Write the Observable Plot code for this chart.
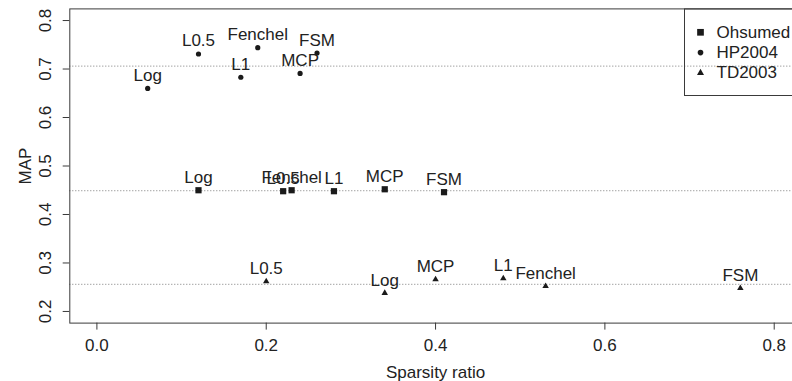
<!DOCTYPE html>
<html><head><meta charset="utf-8">
<script src="https://cdn.jsdelivr.net/npm/d3@7"></script>
<script src="https://cdn.jsdelivr.net/npm/@observablehq/plot@0.6"></script>
<style>body{margin:0;background:#fff} #chart svg{display:block}</style>
</head><body><div id="chart"></div>
<script>
// ---- data ----
const methods = ["Log", "L0.5", "L1", "Fenchel", "MCP", "FSM"];
const seriesNames = ["Ohsumed", "HP2004", "TD2003"];
const seriesSymbols = ["square", "circle", "triangle"];

const ohsumedSparsity = [0.12, 0.22, 0.28, 0.23, 0.34, 0.41];
const ohsumedMAP      = [0.450, 0.448, 0.448, 0.450, 0.452, 0.446];
const hp2004Sparsity  = [0.06, 0.12, 0.17, 0.19, 0.24, 0.26];
const hp2004MAP       = [0.660, 0.731, 0.683, 0.744, 0.691, 0.733];
const td2003Sparsity  = [0.34, 0.20, 0.48, 0.53, 0.40, 0.76];
const td2003MAP       = [0.238, 0.262, 0.268, 0.252, 0.266, 0.248];
const baselineMAP     = [0.449, 0.706, 0.256]; // Ohsumed, HP2004, TD2003

const xTicks = [0.0, 0.2, 0.4, 0.6, 0.8];
const yTicks = [0.2, 0.3, 0.4, 0.5, 0.6, 0.7, 0.8];

// ---- build table ----
const sparsityBySeries = [ohsumedSparsity, hp2004Sparsity, td2003Sparsity];
const mapBySeries = [ohsumedMAP, hp2004MAP, td2003MAP];
const rows = seriesNames.flatMap((s, i) =>
  methods.map((m, j) => ({series: s, method: m, x: sparsityBySeries[i][j], y: mapBySeries[i][j]})));

const ink = "#1a1a1a";
const txt = "#222";
const font = "'Liberation Sans', Arial, sans-serif";
const fs = 17;
const symR = {square: 3.5, circle: 2.6, triangle: 2.4};

const marks = [
  Plot.ruleY(baselineMAP, {stroke: "#7a7a7a", strokeWidth: 1, strokeDasharray: "1,2"}),
  Plot.frame({stroke: "#3a3a3a", strokeWidth: 1}),
  Plot.axisX({ticks: xTicks, tickSize: 7, tickPadding: 8.4, tickFormat: d => d.toFixed(1),
              label: null, stroke: "#3a3a3a", fill: txt, fontSize: fs}),
  Plot.axisY({ticks: yTicks, tickSize: 6.6, tickFormat: () => "", label: null, stroke: "#3a3a3a"}),
  Plot.text(yTicks, {y: d => d, text: d => d.toFixed(1), frameAnchor: "left", dx: -24.3,
                     rotate: -90, textAnchor: "middle", lineAnchor: "middle", fill: txt, fontSize: fs}),
  Plot.text(["Sparsity ratio"], {frameAnchor: "bottom", dy: 55, lineAnchor: "bottom",
                                 textAnchor: "middle", fill: txt, fontSize: fs}),
  Plot.text(["MAP"], {frameAnchor: "left", dx: -44.3, rotate: -90, textAnchor: "middle",
                      lineAnchor: "middle", fill: txt, fontSize: fs}),
];

seriesNames.forEach((s, i) => {
  const sym = seriesSymbols[i];
  const data = rows.filter(d => d.series === s);
  marks.push(Plot.dot(data, {x: "x", y: "y", symbol: () => sym, r: symR[sym], fill: ink, stroke: "none"}));
  marks.push(Plot.text(data, {x: "x", y: "y", text: "method", dy: -7.5, lineAnchor: "bottom",
                              textAnchor: "middle", fill: txt, fontSize: fs}));
});

// legend (inside the plot, top-right)
marks.push(Plot.frame({insetLeft: 614.7, insetBottom: 227.6, stroke: "#3a3a3a", strokeWidth: 1, fill: "none"}));
seriesNames.forEach((s, i) => {
  const sym = seriesSymbols[i];
  const rowDy = 23.4 + i * 20.3;
  marks.push(Plot.dot([s], {frameAnchor: "top-left", dx: 630.7, dy: rowDy, symbol: () => sym,
                            r: symR[sym] * 1.08, fill: ink, stroke: "none"}));
  marks.push(Plot.text([s], {frameAnchor: "top-left", dx: 646.7, dy: rowDy, text: d => d,
                             textAnchor: "start", lineAnchor: "middle", fill: txt, fontSize: fs}));
});

const chart = Plot.plot({
  width: 792,
  height: 381,
  marginLeft: 69.3,
  marginRight: -8.8,
  marginTop: 8.4,
  marginBottom: 58.4,
  style: {fontFamily: font, fontSize: fs + "px", background: "#fff"},
  x: {domain: [-0.032, 0.832]},
  y: {domain: [0.176, 0.824]},
  symbol: {type: "identity"},
  marks
});
document.getElementById("chart").appendChild(chart);
</script>
</body></html>
